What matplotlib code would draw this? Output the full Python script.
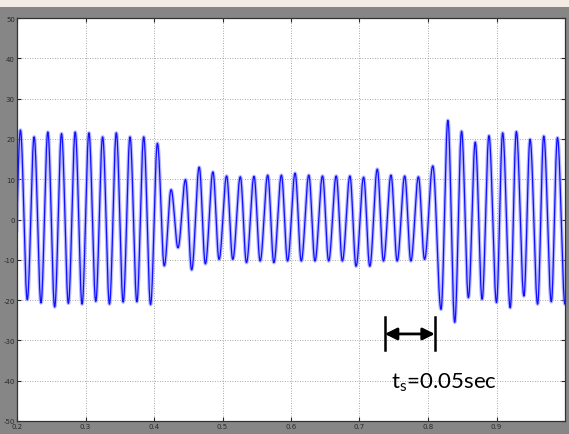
import numpy as np
import matplotlib
matplotlib.use("Agg")
import matplotlib.pyplot as plt
from matplotlib.patches import Rectangle

# ---- data: extrema of the waveform (time s, value) ----
pre_times = [0.195, 0.205, 0.215, 0.225, 0.235, 0.245, 0.255, 0.265, 0.275, 0.285,
             0.295, 0.305, 0.315, 0.325, 0.335, 0.345, 0.355, 0.365, 0.375, 0.385, 0.395]
pre_vals = [-21.0, 22.2, -19.9, 20.5, -20.7, 21.7, -21.7, 21.3, -20.8, 21.7,
            -21.0, 21.5, -20.3, 20.5, -21.0, 21.5, -20.5, 20.5, -20.4, 20.5, -21.1]

mid_times = [0.405, 0.415, 0.425, 0.435, 0.446, 0.455, 0.466, 0.475, 0.486, 0.495,
             0.506, 0.515, 0.526, 0.535, 0.546, 0.555, 0.566, 0.575, 0.586, 0.595,
             0.606, 0.615, 0.626, 0.635, 0.646, 0.655, 0.666, 0.675, 0.686, 0.695,
             0.706, 0.715, 0.726, 0.735, 0.746, 0.755, 0.766, 0.775, 0.786, 0.795]
mid_vals = [18.9, -11.5, 7.4, -7.0, 9.9, -12.5, 13.0, -11.0, 11.8, -9.9,
            10.8, -9.9, 10.6, -10.7, 10.7, -10.3, 11.0, -10.7, 11.0, -10.3,
            11.5, -10.3, 11.0, -10.3, 10.8, -10.3, 10.8, -10.3, 10.8, -11.6,
            10.5, -11.6, 12.5, -10.3, 11.0, -10.3, 10.8, -10.3, 10.6, -9.9]

post_times = [0.807, 0.819, 0.829, 0.839, 0.849, 0.859, 0.869, 0.879, 0.889, 0.900,
              0.909, 0.920, 0.929, 0.940, 0.949, 0.960, 0.969, 0.980, 0.989, 1.000, 1.009]
post_vals = [13.3, -22.3, 24.6, -25.5, 21.9, -19.4, 19.2, -19.8, 20.8, -20.6,
             21.5, -21.9, 21.8, -19.0, 19.9, -21.0, 20.7, -20.4, 20.3, -21.0, 20.0]

x_ticks = [0.2, 0.3, 0.4, 0.5, 0.6, 0.7, 0.8, 0.9]
x_ticklabels = ["0.2", "0.3", "0.4", "0.5", "0.6", "0.7", "0.8", "0.9"]
y_ticks = [50, 40, 30, 20, 10, 0, -10, -20, -30, -40, -50]
y_ticklabels = ["50", "40", "30", "20", "10", "0", "-10", "-20", "-30", "-40", "-50"]

ann_start, ann_end, ann_y = 0.737, 0.810, -28.4
ann_text = r"t$_\mathregular{s}$=0.05sec"

# ---- build the trace: half-cosine arcs between consecutive extrema ----
ext_t = np.array(pre_times + mid_times + post_times)
ext_v = np.array(pre_vals + mid_vals + post_vals)
ts, vs = [], []
for i in range(len(ext_t) - 1):
    u = np.linspace(0, 1, 20, endpoint=False)
    ts.append(ext_t[i] + (ext_t[i + 1] - ext_t[i]) * u)
    vs.append(ext_v[i] + (ext_v[i + 1] - ext_v[i]) * (1 - np.cos(np.pi * u)) / 2)
ts.append([ext_t[-1]]); vs.append([ext_v[-1]])
t = np.concatenate(ts); v = np.concatenate(vs)

# ---- figure ----
fig = plt.figure(figsize=(5.69, 4.35), dpi=100, facecolor="#868686")
fig.patches.append(Rectangle((0, 427 / 435), 1, 8 / 435, transform=fig.transFigure,
                             facecolor="#f2ece4", edgecolor="none", zorder=0))
ax = fig.add_axes([17 / 569, 13 / 435, 548 / 569, 403 / 435])
ax.set_facecolor("white")

ax.plot(t, v, color="#9a9aff", lw=2.6, alpha=0.7, solid_joinstyle="round")
ax.plot(t, v, color="#1010ff", lw=0.9)

ax.set_xlim(0.2, 1.0)
ax.set_ylim(-50, 50)
ax.set_xticks(x_ticks)
ax.set_xticklabels(x_ticklabels)
ax.set_yticks(y_ticks)
ax.set_yticklabels(y_ticklabels)
ax.tick_params(direction="in", length=3, width=0.8, labelsize=5, colors="#2a2a2a",
               top=True, right=True, pad=1.5)
ax.grid(True, linestyle=(0, (1, 2)), color="#8c8c8c", lw=0.6)
for s in ax.spines.values():
    s.set_color("#333333")
    s.set_linewidth(0.9)

# annotation
ax.annotate("", xy=(ann_start, ann_y), xytext=(ann_end, ann_y),
            arrowprops=dict(arrowstyle="<|-|>", color="black", lw=2,
                            mutation_scale=18, shrinkA=0, shrinkB=0))
for xb in (ann_start, ann_end):
    ax.plot([xb, xb], [-24.3, -32.5], color="black", lw=1.8)
ax.text(0.7455, -40.3, ann_text, fontsize=16, family="Lato", color="black",
        ha="left", va="center")

fig.savefig("out.png", dpi=100, facecolor=fig.get_facecolor())
